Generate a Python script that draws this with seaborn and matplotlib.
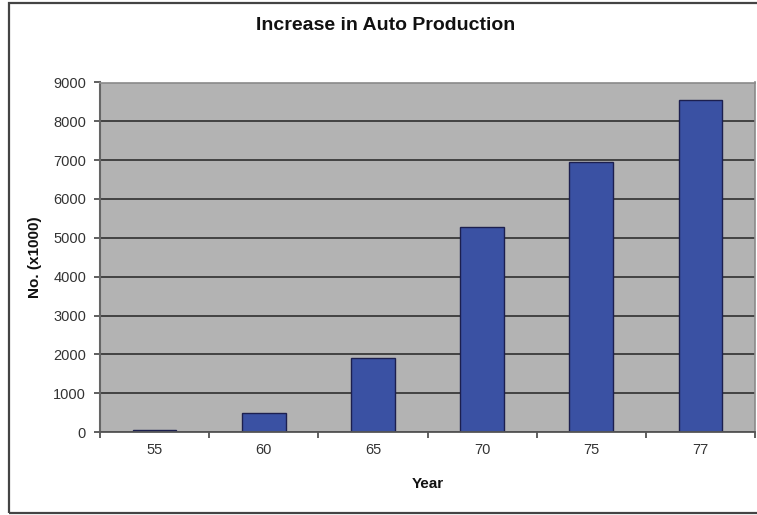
import matplotlib
matplotlib.use("Agg")
import matplotlib.pyplot as plt
from matplotlib.patches import Rectangle
from matplotlib.ticker import FixedLocator
import seaborn as sns
import pandas as pd

# Auto production by year, in thousands
years = ["55", "60", "65", "70", "75", "77"]
production = [60, 480, 1900, 5290, 6940, 8540]
y_ticks = [0, 1000, 2000, 3000, 4000, 5000, 6000, 7000, 8000, 9000]

title = "Increase in Auto Production"
x_label = "Year"
y_label = "No. (x1000)"

sns.set_theme(style="white")
plt.rcParams["font.family"] = ["Liberation Sans", "DejaVu Sans"]

df = pd.DataFrame({"year": years, "production": production})

fig = plt.figure(figsize=(7.57, 5.15), dpi=100)
ax = fig.add_axes([100 / 757, 1 - 432 / 515, 655 / 757, (432 - 82.5) / 515])
ax.set_facecolor("#b3b3b3")

sns.barplot(data=df, x="year", y="production", order=years, color="#3a51a3",
            width=0.4, edgecolor="#1c1f4f", linewidth=1.0, saturation=1,
            ax=ax, zorder=3)

ax.set_ylim(0, 9000)
ax.set_xlim(-0.5, len(years) - 0.5)
ax.set_yticks(y_ticks)
ax.set_yticklabels([str(v) for v in y_ticks])
ax.yaxis.grid(True, color="#3a3a3a", linewidth=1.3, zorder=1)
ax.set_axisbelow(True)

# category ticks sit between the bars
ax.xaxis.set_minor_locator(FixedLocator([i - 0.5 for i in range(len(years) + 1)]))
ax.tick_params(axis="x", which="major", length=0, pad=8, labelsize=10.5, labelcolor="#333333")
ax.tick_params(axis="x", which="minor", length=4, width=1.2, color="#444444", direction="out", bottom=True)
ax.tick_params(axis="y", which="major", length=4, width=1.2, color="#444444", direction="out",
               left=True, pad=6, labelsize=10.5, labelcolor="#333333")

for side in ["top", "right"]:
    ax.spines[side].set_color("#8a8a8a")
    ax.spines[side].set_linewidth(1.2)
ax.spines["left"].set_color("#666666")
ax.spines["left"].set_linewidth(1.5)
ax.spines["bottom"].set_color("#555555")
ax.spines["bottom"].set_linewidth(1.3)
for s in ax.spines.values():
    s.set_zorder(4)

ax.set_xlabel(x_label, fontsize=11, fontweight="bold", color="#111111")
ax.set_ylabel(y_label, fontsize=11, fontweight="bold", color="#111111")
ax.yaxis.set_label_coords(-(100 - 42) / 655, 0.5)
ax.xaxis.set_label_coords(0.5, -(477 - 432) / 349.5)

fig.text(386 / 757, 1 - 25 / 515, title, ha="center", va="center",
         fontsize=14, fontweight="bold", color="#111111")

# outer chart border
fig.patches.append(Rectangle((9 / 757, 2.5 / 515), 800 / 757, 510 / 515,
                             transform=fig.transFigure, fill=False,
                             edgecolor="#444444", linewidth=1.6))

fig.savefig("out.png", dpi=100, facecolor="white")
